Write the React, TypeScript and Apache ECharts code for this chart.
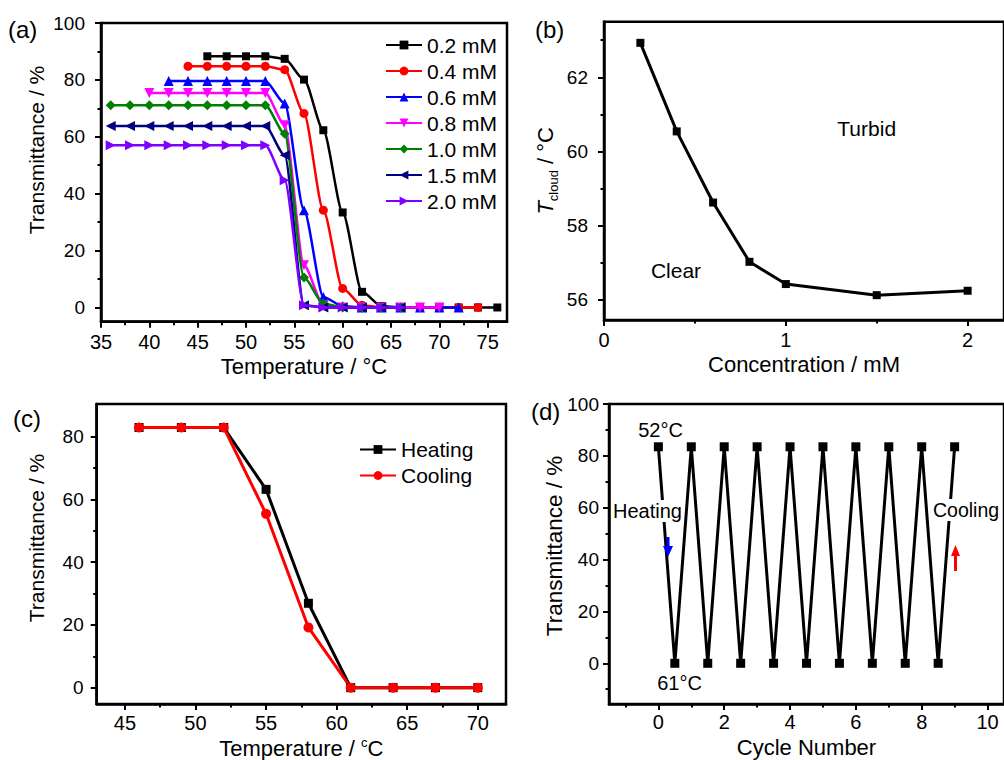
import React, { useEffect, useRef } from 'react';
import * as echarts from 'echarts';

const FONT = 'Liberation Sans, Arial, Helvetica, sans-serif';

// ---------- Panel (a): transmittance vs temperature for several concentrations
const concLabels = ['0.2 mM', '0.4 mM', '0.6 mM', '0.8 mM', '1.0 mM', '1.5 mM', '2.0 mM'];
const tempA02 = [46, 48, 50, 52, 54, 56, 58, 60, 62, 64, 66, 68, 70, 72, 74, 76];
const transA02 = [88.3, 88.3, 88.3, 88.3, 87.4, 80.1, 62.3, 33.4, 5.5, 0.5, 0, 0, 0, 0, 0, 0];
const tempA04 = [44, 46, 48, 50, 52, 54, 56, 58, 60, 62, 64, 66, 68, 70, 72, 74];
const transA04 = [84.8, 84.8, 84.8, 84.8, 84.8, 83.6, 68.2, 34.2, 6.7, 0.8, 0, 0, 0, 0, 0, 0];
const tempA06 = [42, 44, 46, 48, 50, 52, 54, 56, 58, 60, 62, 64, 66, 68, 70, 72];
const transA06 = [79.6, 79.6, 79.6, 79.6, 79.6, 79.6, 71.7, 34.2, 3.7, 0.5, 0, 0, 0, 0, 0, 0];
const tempA08 = [40, 42, 44, 46, 48, 50, 52, 54, 56, 58, 60, 62, 64, 66, 68, 70];
const transA08 = [75.4, 75.4, 75.4, 75.4, 75.4, 75.4, 75.4, 64.1, 14.8, 0.8, 0, 0, 0, 0, 0, 0];
const tempA10 = [36, 38, 40, 42, 44, 46, 48, 50, 52, 54, 56, 58, 60, 62, 64, 66];
const transA10 = [71.1, 71.1, 71.1, 71.1, 71.1, 71.1, 71.1, 71.1, 71.1, 61.1, 10.5, 1.4, 0, 0, 0, 0];
const tempA15 = [36, 38, 40, 42, 44, 46, 48, 50, 52, 54, 56, 58, 60, 62, 64, 66];
const transA15 = [63.8, 63.8, 63.8, 63.8, 63.8, 63.8, 63.8, 63.8, 63.8, 53.5, 0.8, 0, 0, 0, 0, 0];
const tempA20 = [36, 38, 40, 42, 44, 46, 48, 50, 52, 54, 56, 58, 60, 62, 64, 66];
const transA20 = [57.0, 57.0, 57.0, 57.0, 57.0, 57.0, 57.0, 57.0, 57.0, 44.7, 0.8, 0, 0, 0, 0, 0];

const ticksAX = [35, 40, 45, 50, 55, 60, 65, 70, 75];
const minorAX = [37.5, 42.5, 47.5, 52.5, 57.5, 62.5, 67.5, 72.5];
const ticksAY = [0, 20, 40, 60, 80, 100];
const minorAY = [10, 30, 50, 70, 90];

// ---------- Panel (b): cloud point vs concentration
const concB = [0.2, 0.4, 0.6, 0.8, 1.0, 1.5, 2.0];
const tCloudB = [62.93, 60.54, 58.62, 57.02, 56.42, 56.12, 56.24];
const ticksBX = [0, 1, 2];
const minorBX = [0.5, 1.5];
const ticksBY = [56, 58, 60, 62];
const minorBY = [57, 59, 61, 63];

// ---------- Panel (c): heating / cooling
const tempC = [46, 49, 52, 55, 58, 61, 64, 67, 70];
const heatingC = [82.9, 82.9, 82.9, 63.2, 26.9, 0, 0, 0, 0];
const coolingC = [82.9, 82.9, 82.9, 55.4, 19.2, 0, 0, 0, 0];
const ticksCX = [45, 50, 55, 60, 65, 70];
const minorCX = [47.5, 52.5, 57.5, 62.5, 67.5];
const ticksCY = [0, 20, 40, 60, 80];
const minorCY = [10, 30, 50, 70];

// ---------- Panel (d): cycles
const cycleX = [0, 0.5, 1, 1.5, 2, 2.5, 3, 3.5, 4, 4.5, 5, 5.5, 6, 6.5, 7, 7.5, 8, 8.5, 9];
const cycleT = [83.5, 0, 83.5, 0, 83.5, 0, 83.5, 0, 83.5, 0, 83.5, 0, 83.5, 0, 83.5, 0, 83.5, 0, 83.5];
const ticksDX = [0, 2, 4, 6, 8, 10];
const minorDX = [-1, 1, 3, 5, 7, 9];
const ticksDY = [0, 20, 40, 60, 80, 100];
const minorDY = [-10, 10, 30, 50, 70, 90];

const pairs = (xs: number[], ys: number[]) => xs.map((x, i) => [x, ys[i]]);

function axisPair(
  dim: 'x' | 'y',
  grid: number,
  min: number,
  max: number,
  majors: number[],
  minors: number[],
  margin: number,
  fontSize: number,
  nameOpts: any = {}
) {
  const base = {
    type: 'value',
    gridIndex: grid,
    min,
    max,
    position: dim === 'x' ? 'bottom' : 'left',
    splitLine: { show: false },
  };
  const main = {
    ...base,
    axisLine: { show: true, onZero: false, lineStyle: { color: '#000', width: 2.5 } },
    axisTick: { show: true, inside: false, length: 6, customValues: majors, lineStyle: { color: '#000', width: 2 } },
    axisLabel: { show: true, customValues: majors, margin, fontSize, color: '#000', fontFamily: FONT },
    ...nameOpts,
  };
  const minor = {
    ...base,
    axisLine: { show: false, onZero: false },
    axisTick: { show: true, inside: false, length: 3.5, customValues: minors, lineStyle: { color: '#000', width: 2 } },
    axisLabel: { show: false },
  };
  return [main, minor];
}

const xName = (name: string, gap: number, extra: any = {}) => ({
  name,
  nameLocation: 'middle',
  nameGap: gap,
  nameTextStyle: { fontSize: 22, color: '#000', fontFamily: FONT, ...extra },
});

export default function App() {
  const ref = useRef<HTMLDivElement>(null);

  useEffect(() => {
    if (!ref.current) return;
    const chart = echarts.init(ref.current, null, { renderer: 'svg' });

    const colorsA = ['#000000', '#ff0000', '#0000ff', '#ff00ff', '#008000', '#000080', '#8000ff'];
    const symbolsA = ['rect', 'circle', 'triangle', 'triangle', 'diamond', 'triangle', 'triangle'];
    const rotA = [0, 0, 0, 180, 0, 90, -90];
    const sizeA = [8, 9, 10, 10, 10, 10, 10];
    const dataA = [
      pairs(tempA02, transA02),
      pairs(tempA04, transA04),
      pairs(tempA06, transA06),
      pairs(tempA08, transA08),
      pairs(tempA10, transA10),
      pairs(tempA15, transA15),
      pairs(tempA20, transA20),
    ];

    const seriesA = concLabels.map((name, i) => ({
      name,
      type: 'line',
      xAxisIndex: 0,
      yAxisIndex: 0,
      data: dataA[i],
      symbol: symbolsA[i],
      symbolRotate: rotA[i],
      symbolSize: sizeA[i],
      smooth: 0.25,
      smoothMonotone: 'x',
      lineStyle: { color: colorsA[i], width: 2.5 },
      itemStyle: { color: colorsA[i] },
      z: 2 + i,
    }));

    const xA = axisPair('x', 0, 35, 77, ticksAX, minorAX, 10, 20, xName('Temperature / °C', 34));
    const yA = axisPair('y', 0, -5, 100, ticksAY, minorAY, 16, 19);
    const xB = axisPair('x', 1, 0, 2.2, ticksBX, minorBX, 10, 20, xName('Concentration / mM', 33));
    const yB = axisPair('y', 1, 55.45, 63.5, ticksBY, minorBY, 16, 19, {
      name: '{t|T}{s|cloud}{n| / °C}',
      nameLocation: 'middle',
      nameGap: 44,
      nameRotate: 90,
      nameTextStyle: {
        color: '#000',
        fontFamily: FONT,
        rich: {
          t: { fontSize: 22, fontStyle: 'italic', lineHeight: 30, fontFamily: FONT, color: '#000' },
          s: { fontSize: 13, lineHeight: 13, verticalAlign: 'bottom', fontFamily: FONT, color: '#000' },
          n: { fontSize: 22, lineHeight: 30, fontFamily: FONT, color: '#000' },
        },
      },
    });
    const xC = axisPair('x', 2, 43, 72, ticksCX, minorCX, 9, 20, {
      name: '{n|Temperature / }{s|c}{n|C}',
      nameLocation: 'middle',
      nameGap: 32,
      nameTextStyle: {
        color: '#000',
        fontFamily: FONT,
        rich: {
          n: { fontSize: 22, lineHeight: 24, fontFamily: FONT, color: '#000' },
          s: { fontSize: 13, lineHeight: 13, verticalAlign: 'top', fontFamily: FONT, color: '#000' },
        },
      },
    });
    const yC = axisPair('y', 2, -5.2, 90.4, ticksCY, minorCY, 13, 19);
    const xD = axisPair('x', 3, -1.5, 10.5, ticksDX, minorDX, 8, 20, xName('Cycle Number', 32));
    const yD = axisPair('y', 3, -15.7, 100, ticksDY, minorDY, 10, 19);

    const gridStyle = { show: true, borderColor: '#000', borderWidth: 2.5, backgroundColor: 'transparent' };

    const titleText = (text: string, x: number, y: number, fontSize = 21) => ({
      type: 'text',
      x,
      y,
      rotation: Math.PI / 2,
      z: 50,
      style: { text, fontSize, fontFamily: FONT, fill: '#000', align: 'center', verticalAlign: 'middle' },
    });
    const plainText = (text: string, x: number, y: number, fontSize = 21, align = 'center', extra: any = {}) => ({
      type: 'text',
      x,
      y,
      z: 50,
      style: { text, fontSize, fontFamily: FONT, fill: '#000', align, verticalAlign: 'middle', ...extra },
    });

    const option: any = {
      animation: false,
      backgroundColor: '#fff',
      grid: [
        { left: 101, top: 23, width: 406, height: 298.7, ...gridStyle },
        { left: 604, top: 21.7, width: 407.7, height: 298.3, ...gridStyle },
        { left: 96.7, top: 404, width: 409.3, height: 300, ...gridStyle },
        { left: 609, top: 404, width: 404, height: 300, ...gridStyle },
      ],
      xAxis: [...xA, ...xB, ...xC, ...xD],
      yAxis: [...yA, ...yB, ...yC, ...yD],
      legend: [
        {
          data: concLabels,
          orient: 'vertical',
          left: 380,
          top: 29.5,
          itemWidth: 36,
          itemHeight: 11,
          itemGap: 5,
          selectedMode: false,
          textStyle: { fontSize: 21, color: '#000', fontFamily: FONT },
        },
        {
          data: ['Heating', 'Cooling'],
          orient: 'vertical',
          left: 354,
          top: 434,
          itemWidth: 36,
          itemHeight: 11,
          itemGap: 5,
          selectedMode: false,
          textStyle: { fontSize: 21, color: '#000', fontFamily: FONT },
        },
      ],
      series: [
        ...seriesA,
        {
          name: 'Tcloud',
          type: 'line',
          xAxisIndex: 2,
          yAxisIndex: 2,
          data: pairs(concB, tCloudB),
          symbol: 'rect',
          symbolSize: 8,
          lineStyle: { color: '#000', width: 3 },
          itemStyle: { color: '#000' },
        },
        {
          name: 'Heating',
          type: 'line',
          xAxisIndex: 4,
          yAxisIndex: 4,
          data: pairs(tempC, heatingC),
          symbol: 'rect',
          symbolSize: 9,
          lineStyle: { color: '#000', width: 3 },
          itemStyle: { color: '#000' },
        },
        {
          name: 'Cooling',
          type: 'line',
          xAxisIndex: 4,
          yAxisIndex: 4,
          data: pairs(tempC, coolingC),
          symbol: 'circle',
          symbolSize: 10,
          lineStyle: { color: '#ff0000', width: 3 },
          itemStyle: { color: '#ff0000' },
        },
        {
          name: 'Cycle',
          type: 'line',
          xAxisIndex: 6,
          yAxisIndex: 6,
          data: pairs(cycleX, cycleT),
          symbol: 'rect',
          symbolSize: 9,
          lineStyle: { color: '#000', width: 3 },
          itemStyle: { color: '#000' },
        },
      ],
      graphic: [
        plainText('(a)', 8, 29.5, 24, 'left'),
        plainText('(b)', 535, 29.5, 24, 'left'),
        plainText('(c)', 13, 418, 24, 'left'),
        plainText('(d)', 531, 411.5, 24, 'left'),
        titleText('Transmittance / %', 36, 150, 21),
        titleText('Transmittance / %', 36, 538, 21),
        titleText('Transmittance / %', 554, 546, 22.5),
        plainText('Turbid', 866.7, 128.3, 21),
        plainText('Clear', 676, 270, 21),
        plainText('52°C', 660.5, 430, 20),
        plainText('61°C', 679.5, 682.5, 20),
        plainText('Heating', 612, 511, 20, 'left', { backgroundColor: '#fff', padding: [1, 1, 1, 1] }),
        plainText('Cooling', 932, 510, 19.5, 'left', { backgroundColor: '#fff', padding: [1, 1, 1, 1] }),
        {
          type: 'polygon',
          z: 60,
          shape: {
            points: [
              [666.5, 537], [669.5, 537], [669.5, 546], [673, 546], [668, 557], [663, 546], [666.5, 546],
            ],
          },
          style: { fill: '#0000ff' },
        },
        {
          type: 'polygon',
          z: 60,
          shape: {
            points: [
              [955.5, 545], [960, 556], [957, 556], [957, 571], [954, 571], [954, 556], [951, 556],
            ],
          },
          style: { fill: '#ff0000' },
        },
      ],
    };

    chart.setOption(option);
    return () => {
      chart.dispose();
    };
  }, []);

  return (
    <div
      ref={ref}
      style={{ position: 'fixed', left: 0, top: 0, width: 1004, height: 760, background: '#fff' }}
    />
  );
}
